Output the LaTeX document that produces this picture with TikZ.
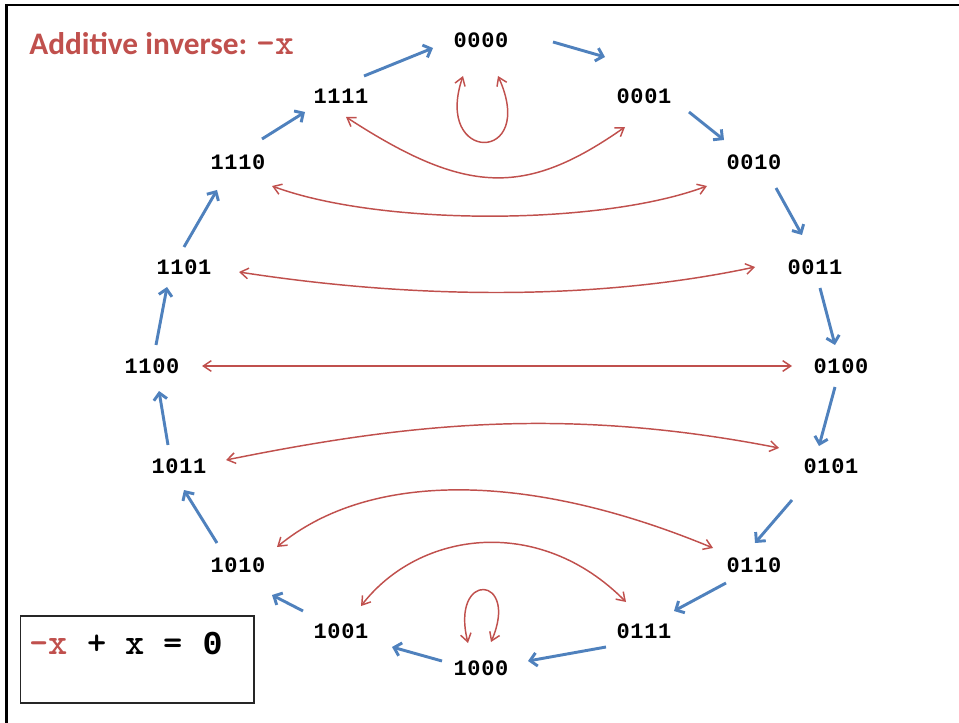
\documentclass[tikz,border=0pt]{standalone}
\usepackage{fontspec}
\usetikzlibrary{arrows.meta}

\newfontfamily\bitfont{Liberation Mono}[LetterSpace=3]
\newfontfamily\titlefont{Carlito}
\definecolor{ringblue}{HTML}{4F81BD}
\definecolor{invred}{HTML}{C0504D}

\begin{document}
\begin{tikzpicture}[x=0.75pt,y=-0.75pt,
  bit/.style={inner sep=0pt,font=\bitfont\bfseries\fontsize{16.5}{19}\selectfont},
  succ/.style={ringblue,line width=2.2pt,-{Straight Barb[length=5pt,width=10pt]}},
  inv/.style={invred,line width=1.1pt,
    {Straight Barb[length=6pt,width=8pt]}-{Straight Barb[length=6pt,width=8pt]}}]
  \useasboundingbox (0,0) rectangle (959,723);
  \draw[line width=1.8pt] (6.5,723) -- (6.5,5) -- (959,5);

  % title and the identity box
  \node[anchor=base west,inner sep=0pt,text=invred,
    font=\titlefont\bfseries\fontsize{23.5}{28}\selectfont] (title) at (29,55)
    {Additive inverse: {\ttfamily\bfseries\fontsize{27}{30}\selectfont -x}};
  \draw[line width=0.9pt,black!85] (20.5,616) rectangle (254,703);
  \node[anchor=base west,inner sep=0pt,
    font=\ttfamily\bfseries\fontsize{27.5}{30}\selectfont] (identity) at (29,654)
    {\textcolor{invred}{-x} + x = {\bitfont\fontsize{25}{30}\selectfont 0}};

  % the sixteen 4-bit values round the ring
  \node[bit] (n0000) at (481,40) {0000};
  \node[bit] (n0001) at (644,96) {0001};
  \node[bit] (n0010) at (754,162) {0010};
  \node[bit] (n0011) at (815,267) {0011};
  \node[bit] (n0100) at (841,366) {0100};
  \node[bit] (n0101) at (831,466) {0101};
  \node[bit] (n0110) at (754,565) {0110};
  \node[bit] (n0111) at (644,631) {0111};
  \node[bit] (n1000) at (481,668) {1000};
  \node[bit] (n1001) at (341,631) {1001};
  \node[bit] (n1010) at (238,565) {1010};
  \node[bit] (n1011) at (179,466) {1011};
  \node[bit] (n1100) at (152,366) {1100};
  \node[bit] (n1101) at (184,267) {1101};
  \node[bit] (n1110) at (238,162) {1110};
  \node[bit] (n1111) at (341,96) {1111};

  % +1 steps, clockwise
  \draw[succ] ([shift={(72,2)}]n0000.center) -- ([shift={(-39,-39)}]n0001.center);
  \draw[succ] ([shift={(45,16)}]n0001.center) -- ([shift={(-30,-22)}]n0010.center);
  \draw[succ] ([shift={(22,26)}]n0010.center) -- ([shift={(-13,-32)}]n0011.center);
  \draw[succ] ([shift={(5,21)}]n0011.center) -- ([shift={(-6,-21)}]n0100.center);
  \draw[succ] ([shift={(-6,21)}]n0100.center) -- ([shift={(-12,-20)}]n0101.center);
  \draw[succ] ([shift={(-39,34)}]n0101.center) -- ([shift={(1,-22)}]n0110.center);
  \draw[succ] ([shift={(-28,18)}]n0110.center) -- ([shift={(30,-20)}]n0111.center);
  \draw[succ] ([shift={(-38,16)}]n0111.center) -- ([shift={(47,-7)}]n1000.center);
  \draw[succ] ([shift={(-39,-7)}]n1000.center) -- ([shift={(51,16)}]n1001.center);
  \draw[succ] ([shift={(-38,-20)}]n1001.center) -- ([shift={(34,30)}]n1010.center);
  \draw[succ] ([shift={(-21,-22)}]n1010.center) -- ([shift={(5,24)}]n1011.center);
  \draw[succ] ([shift={(-11,-21)}]n1011.center) -- ([shift={(7,25)}]n1100.center);
  \draw[succ] ([shift={(4,-21)}]n1100.center) -- ([shift={(-17,20)}]n1101.center);
  \draw[succ] ([shift={(0,-20)}]n1101.center) -- ([shift={(-21,28)}]n1110.center);
  \draw[succ] ([shift={(24,-23)}]n1110.center) -- ([shift={(-36,16)}]n1111.center);
  \draw[succ] ([shift={(23,-20)}]n1111.center) -- ([shift={(-48,8)}]n0000.center);

  % inverse pairs
  \draw[inv] ([shift={(-18,36)}]n0000.center) .. controls +(-30,88) and +(40,88) .. ([shift={(17,36)}]n0000.center);
  \draw[inv] ([shift={(5,21)}]n1111.center) .. controls +(120,78) and +(-100,70) .. ([shift={(-19,31)}]n0001.center);
  \draw[inv] ([shift={(34,24)}]n1110.center) .. controls +(108,40) and +(-107,40) .. ([shift={(-47,24)}]n0010.center);
  \draw[inv] ([shift={(55,5)}]n1101.center) .. controls +(181,28) and +(-155,33) .. ([shift={(-60,0)}]n0011.center);
  \draw[inv] ([shift={(50,0)}]n1100.center) -- ([shift={(-49,0)}]n0100.center);
  \draw[inv] ([shift={(47,-6)}]n1011.center) .. controls +(174,-35) and +(-219,-43) .. ([shift={(-52,-18)}]n0101.center);
  \draw[inv] ([shift={(39,-18)}]n1010.center) .. controls +(93,-77) and +(-183,-76) .. ([shift={(-41,-17)}]n0110.center);
  \draw[inv] ([shift={(20,-25)}]n1001.center) .. controls +(59,-76) and +(-86,-87) .. ([shift={(-18,-29)}]n0111.center);
  \draw[inv] ([shift={(-13,-25)}]n1000.center) .. controls +(-18,-73) and +(29,-67) .. ([shift={(10,-26)}]n1000.center);
\end{tikzpicture}
\end{document}
